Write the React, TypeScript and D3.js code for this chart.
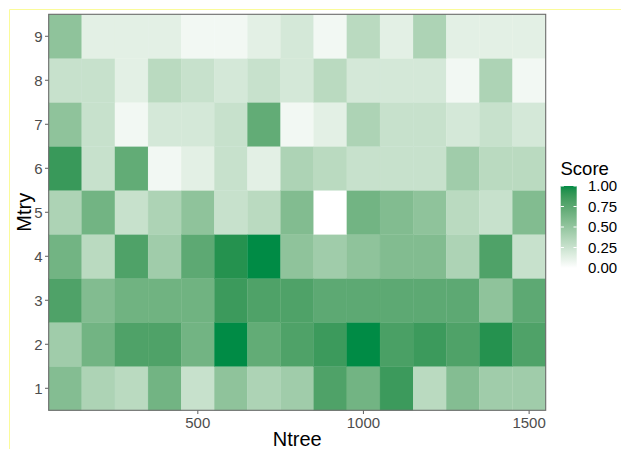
import React from "react";
import * as d3 from "d3";

const ntree = [100, 200, 300, 400, 500, 600, 700, 800, 900, 1000, 1100, 1200, 1300, 1400, 1500];
const mtry = [1, 2, 3, 4, 5, 6, 7, 8, 9];
const xTicks = [500, 1000, 1500];
const legendTicks = [0, 0.25, 0.5, 0.75, 1];

const scoreM1 = [0.57, 0.38, 0.32, 0.65, 0.26, 0.52, 0.38, 0.44, 0.8, 0.65, 0.87, 0.32, 0.57, 0.44, 0.44];
const scoreM2 = [0.44, 0.65, 0.8, 0.8, 0.65, 1.0, 0.72, 0.8, 0.87, 1.0, 0.82, 0.87, 0.8, 0.94, 0.8];
const scoreM3 = [0.8, 0.58, 0.66, 0.66, 0.66, 0.87, 0.8, 0.8, 0.74, 0.74, 0.74, 0.74, 0.74, 0.52, 0.74];
const scoreM4 = [0.65, 0.32, 0.8, 0.44, 0.74, 0.94, 1.0, 0.52, 0.44, 0.52, 0.58, 0.58, 0.38, 0.8, 0.26];
const scoreM5 = [0.38, 0.65, 0.26, 0.38, 0.52, 0.26, 0.32, 0.58, 0.0, 0.65, 0.58, 0.52, 0.32, 0.26, 0.58];
const scoreM6 = [0.88, 0.26, 0.72, 0.06, 0.13, 0.26, 0.13, 0.38, 0.32, 0.26, 0.26, 0.26, 0.44, 0.32, 0.32];
const scoreM7 = [0.52, 0.26, 0.06, 0.2, 0.2, 0.26, 0.72, 0.06, 0.13, 0.38, 0.26, 0.26, 0.2, 0.26, 0.2];
const scoreM8 = [0.26, 0.26, 0.13, 0.32, 0.26, 0.2, 0.26, 0.2, 0.32, 0.2, 0.2, 0.2, 0.06, 0.38, 0.06];
const scoreM9 = [0.52, 0.13, 0.13, 0.13, 0.06, 0.06, 0.13, 0.2, 0.06, 0.32, 0.13, 0.38, 0.13, 0.13, 0.13];

const scoreRows = [scoreM1, scoreM2, scoreM3, scoreM4, scoreM5, scoreM6, scoreM7, scoreM8, scoreM9];

const W = 621;
const H = 449;
const panel = { left: 48.7, right: 545.7, top: 14.3, bottom: 410.3 };
const FONT = "'Liberation Sans', Arial, sans-serif";

export default function App() {
  const x = d3.scaleLinear().domain([50, 1550]).range([panel.left, panel.right]);
  const y = d3.scaleLinear().domain([0.5, 9.5]).range([panel.bottom, panel.top]);
  const interp = d3.interpolateLab("#FFFFFF", "#008B45");
  const color = d3.scaleLinear<number>().domain([0, 1]).range([0, 1]);
  const fill = (v: number) => interp(color(v));

  const cells: { n: number; m: number; v: number }[] = [];
  mtry.forEach((m, i) => {
    ntree.forEach((n, j) => {
      cells.push({ n, m, v: scoreRows[i][j] });
    });
  });

  const lg = { x: 560.7, w: 16, top: 186, bottom: 268 };
  const ly = d3.scaleLinear().domain([0, 1]).range([lg.bottom, lg.top]);
  const stops = d3.range(0, 1.0001, 0.05);

  return (
    <svg
      width={W}
      height={H}
      style={{ position: "absolute", left: 0, top: 0, background: "#fff" }}
      fontFamily={FONT}
    >
      <defs>
        <linearGradient id="lgGrad" x1="0" y1="1" x2="0" y2="0">
          {stops.map((s) => (
            <stop key={s} offset={s} stopColor={interp(s)} />
          ))}
        </linearGradient>
      </defs>
      <rect x={0} y={0} width={W} height={H} fill="#fff" />
      <line x1={9.5} y1={9.5} x2={W} y2={9.5} stroke="#fbfb9a" strokeWidth={1} />
      <line x1={9.5} y1={9.5} x2={9.5} y2={H} stroke="#fbfb9a" strokeWidth={1} />

      {cells.map((c) => (
        <rect
          key={`${c.n}-${c.m}`}
          x={x(c.n - 50)}
          y={y(c.m + 0.5)}
          width={x(c.n + 50) - x(c.n - 50)}
          height={y(c.m - 0.5) - y(c.m + 0.5)}
          fill={fill(c.v)}
          stroke={fill(c.v)}
          strokeWidth={0.3}
        />
      ))}
      <rect
        x={panel.left}
        y={panel.top}
        width={panel.right - panel.left}
        height={panel.bottom - panel.top}
        fill="none"
        stroke="#6b6b6b"
        strokeWidth={1.1}
      />

      {mtry.map((m) => (
        <g key={m}>
          <line x1={panel.left - 3.7} x2={panel.left} y1={y(m)} y2={y(m)} stroke="#6b6b6b" strokeWidth={1.1} />
          <text x={panel.left - 6} y={y(m)} dy="0.36em" textAnchor="end" fontSize={15} fill="#4D4D4D">
            {m}
          </text>
        </g>
      ))}
      {xTicks.map((t) => (
        <g key={t}>
          <line x1={x(t)} x2={x(t)} y1={panel.bottom} y2={panel.bottom + 3.7} stroke="#6b6b6b" strokeWidth={1.1} />
          <text x={x(t)} y={427.5} textAnchor="middle" fontSize={15} fill="#4D4D4D">
            {t}
          </text>
        </g>
      ))}

      <text x={(panel.left + panel.right) / 2} y={445.5} textAnchor="middle" fontSize={20} fill="#000">
        Ntree
      </text>
      <text
        transform={`translate(31,${(panel.top + panel.bottom) / 2}) rotate(-90)`}
        textAnchor="middle"
        fontSize={20}
        fill="#000"
      >
        Mtry
      </text>

      <text x={560.5} y={175} fontSize={18.5} fill="#000">
        Score
      </text>
      <rect x={lg.x} y={lg.top} width={lg.w} height={lg.bottom - lg.top} fill="url(#lgGrad)" />
      {legendTicks.map((t) => (
        <g key={t}>
          <line x1={lg.x} x2={lg.x + 3.2} y1={ly(t)} y2={ly(t)} stroke="#fff" strokeWidth={1} />
          <line x1={lg.x + lg.w - 3.2} x2={lg.x + lg.w} y1={ly(t)} y2={ly(t)} stroke="#fff" strokeWidth={1} />
          <text x={588} y={ly(t)} dy="0.36em" fontSize={15} fill="#000">
            {t.toFixed(2)}
          </text>
        </g>
      ))}
    </svg>
  );
}
